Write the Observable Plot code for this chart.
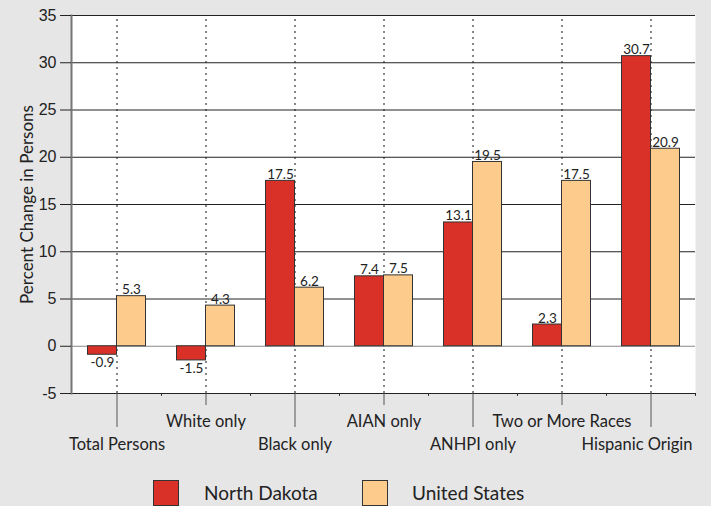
<!DOCTYPE html>
<html>
<head>
<meta charset="utf-8">
<script src="https://cdn.jsdelivr.net/npm/d3@7"></script>
<script src="https://cdn.jsdelivr.net/npm/@observablehq/plot@0.6"></script>
<style>
  html, body { margin: 0; padding: 0; background: #e6e6e6; }
  #wrap { position: relative; width: 711px; height: 506px; overflow: hidden; }
  #legend { position: absolute; left: 0; top: 466px; width: 711px; height: 40px; font-family: Lato, "Open Sans", sans-serif; font-size: 19px; color: #222; }
  .sw { position: absolute; top: 14px; width: 24px; height: 24px; border: 1px solid #333; }
  .lt { position: absolute; top: 14px; line-height: 26px; }
</style>
</head>
<body>
<div id="wrap">
  <div id="chart"></div>
  <div id="legend"></div>
</div>
<script>
const categories = ["Total Persons", "White only", "Black only", "AIAN only", "ANHPI only", "Two or More Races", "Hispanic Origin"];
const seriesNames = ["North Dakota", "United States"];
const northDakota = [-0.9, -1.5, 17.5, 7.4, 13.1, 2.3, 30.7];
const unitedStates = [5.3, 4.3, 6.2, 7.5, 19.5, 17.5, 20.9];
const yTicks = [-5, 0, 5, 10, 15, 20, 25, 30, 35];
const colors = ["#d93128", "#fdcb8b"];

const nd = categories.map((c, i) => ({category: c, series: seriesNames[0], value: northDakota[i]}));
const us = categories.map((c, i) => ({category: c, series: seriesNames[1], value: unitedStates[i]}));
const lowerCats = categories.filter((d, i) => i % 2 === 0);
const upperCats = categories.filter((d, i) => i % 2 === 1);
const lastCat = categories[categories.length - 1];

const font = "Lato, 'Open Sans', sans-serif";
const valueLabel = (data, dx) => [
  Plot.text(data.filter(d => d.value >= 0), {x: "category", y: "value", text: d => d.value.toFixed(1), dx, dy: -2, lineAnchor: "bottom", fontSize: 13.5, fontFamily: font, fill: "#222"}),
  Plot.text(data.filter(d => d.value < 0), {x: "category", y: "value", text: d => d.value.toFixed(1), dx, dy: 3, lineAnchor: "top", fontSize: 13.5, fontFamily: font, fill: "#222"})
];

const chart = Plot.plot({
  width: 711,
  height: 466,
  marginLeft: 71,
  marginRight: 16,
  marginTop: 15,
  marginBottom: 73,
  style: {background: "transparent"},
  x: {domain: categories, padding: 0, axis: null},
  y: {domain: [-5, 35], axis: null},
  marks: [
    Plot.frame({fill: "white", stroke: null}),
    Plot.ruleX(categories, {x: d => d, y1: -5, y2: 35, stroke: "#111", strokeDasharray: "2,4"}),
    Plot.ruleY(yTicks.filter(d => d !== 0), {y: d => d, stroke: "#222"}),
    Plot.ruleY([0], {stroke: "#888"}),
    Plot.ruleX(categories, {x: d => d, dx: 44.5, y1: -5, y2: -5.3, stroke: "#222"}),
    Plot.barY(nd, {x: "category", y1: 0, y2: "value", fill: colors[0], stroke: "#333", insetLeft: 15.5, insetRight: 44.5}),
    Plot.barY(us, {x: "category", y1: 0, y2: "value", fill: colors[1], stroke: "#333", insetLeft: 44.5, insetRight: 15.5}),
    ...valueLabel(nd, -14.5),
    ...valueLabel(us, 14.5),
    Plot.frame({anchor: "left", stroke: "#777", strokeWidth: 2}),
    Plot.axisY(yTicks, {tickSize: 11, tickPadding: 4, fontSize: 16, fontFamily: "'Liberation Sans', Arial, sans-serif", tickFormat: d => String(d), label: null, stroke: "#222", fill: "#222"}),
    Plot.axisX(lowerCats, {tickSize: 34, tickPadding: 11, fontSize: 16.5, fontFamily: font, label: null, stroke: "#555", fill: "#222", tickFormat: d => d === lastCat ? "" : d}),
    Plot.axisX([lastCat], {tickSize: 0, tickPadding: 45, dx: -14, fontSize: 16.5, fontFamily: font, label: null, fill: "#222"}),
    Plot.axisX(upperCats, {tickSize: 12, tickPadding: 10, fontSize: 16.5, fontFamily: font, label: null, stroke: "#555", fill: "#222"}),
    Plot.text(["Percent Change in Persons"], {frameAnchor: "left", textAnchor: "middle", rotate: -90, dx: -44, fontSize: 17, fontFamily: font, fill: "#222"})
  ]
});
document.getElementById("chart").appendChild(chart);

const legend = document.getElementById("legend");
const legendX = [[153, 204], [362, 412]];
seriesNames.forEach((name, i) => {
  const sw = document.createElement("div");
  sw.className = "sw";
  sw.style.left = legendX[i][0] + "px";
  sw.style.background = colors[i];
  const t = document.createElement("div");
  t.className = "lt";
  t.style.left = legendX[i][1] + "px";
  t.textContent = name;
  legend.appendChild(sw);
  legend.appendChild(t);
});
</script>
</body>
</html>
